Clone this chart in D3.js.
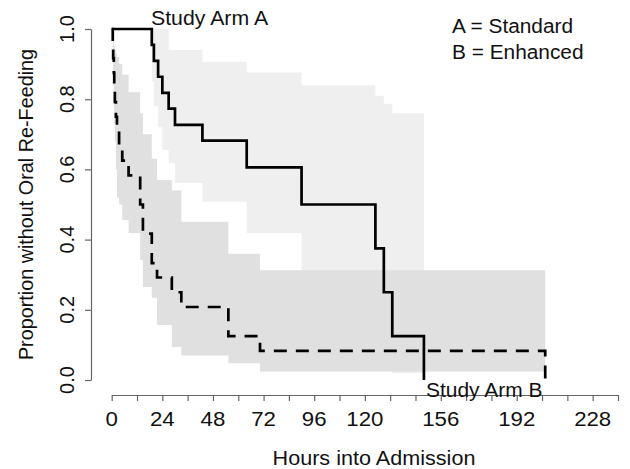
<!DOCTYPE html>
<html><head><meta charset="utf-8">
<script src="https://cdn.jsdelivr.net/npm/d3@7"></script>
<style>
body{margin:0;background:#fff;}
svg{display:block;}
text{font-family:"Liberation Sans",Arial,Helvetica,sans-serif;fill:#111;}
</style>
</head><body>
<svg id="c" width="630" height="469"></svg>
<script>
// ---- data ----
const armATime  = [0, 19, 20, 22, 24, 27, 30, 43, 64, 90, 125, 129, 133, 148];
const armASurv  = [1, .955, .909, .864, .818, .773, .727, .682, .606, .5, .375, .25, .125, 0];
const armAUpper = [1, 1, 1, 1, 1, .94, .94, .907, .876, .84, .81, .787, .76, .76];
const armALower = [1, .85, .78, .72, .655, .618, .561, .508, .419, .28, .17, .08, .02, .02];

const armBTime  = [0, .5, .7, 1, 1.2, 1.5, 2, 2.5, 3.5, 5, 8, 13.5, 14.8, 19, 21.5, 28.5, 33, 55.3, 70.3, 205.5];
const armBSurv  = [1, .958, .917, .875, .833, .792, .75, .708, .667, .625, .583, .5, .417, .333, .292, .25, .208, .125, .083, 0];
const armBUpper = [1, .975, .965, .955, .95, .94, .93, .92, .9, .87, .82, .76, .70, .63, .57, .54, .451, .36, .313, .313];
const armBLower = [1, .9, .84, .78, .73, .68, .6, .52, .5, .456, .419, .342, .265, .234, .157, .094, .07, .048, .024, .024];

const xTicks = d3.range(0, 241, 12);
const xTickLabels = [0, 24, 48, 72, 96, 120, 156, 192, 228];
const yTicks = [0, 0.2, 0.4, 0.6, 0.8, 1.0];
const legendLines = ["A = Standard", "B = Enhanced"];

// ---- scales ----
const x = d3.scaleLinear().domain([0, 240]).range([111.7, 618]);
const y = d3.scaleLinear().domain([0, 1]).range([380, 29]);

const svg = d3.select("#c");
const SX = 1.075; // horizontal stretch of the reference's horizontal text

function rows(t, s, u, l) { return t.map((d, i) => ({t: d, s: s[i], u: u[i], l: l[i]})); }
const A = rows(armATime, armASurv, armAUpper, armALower);
const B = rows(armBTime, armBSurv, armBUpper, armBLower);

const band = d3.area().curve(d3.curveStepAfter)
  .x(d => x(d.t)).y0(d => y(d.l)).y1(d => y(d.u));
const line = d3.line().curve(d3.curveStepAfter)
  .x(d => x(d.t)).y(d => y(d.s));

svg.append("path").attr("d", band(A)).attr("fill", "#efefef");
svg.append("path").attr("d", band(B)).attr("fill", "#e0e0e0");

svg.append("path").attr("d", line(A)).attr("fill", "none")
  .attr("stroke", "#000").attr("stroke-width", 2.7);
svg.append("path").attr("d", line(B)).attr("fill", "none")
  .attr("stroke", "#000").attr("stroke-width", 2.7).attr("stroke-dasharray", "13,9");

// ---- axes ----
const yAxis = svg.append("g").attr("transform", "translate(91,0)")
  .call(d3.axisLeft(y).tickValues(yTicks).tickSize(6).tickSizeOuter(0).tickFormat(""));
const xAxis = svg.append("g").attr("transform", "translate(0,395)")
  .call(d3.axisBottom(x).tickValues(xTicks).tickSize(6).tickSizeOuter(0).tickFormat(""));
[yAxis, xAxis].forEach(g => {
  g.selectAll("path,line").attr("stroke", "#666").attr("stroke-width", 1.2);
});

function htext(px, py, size, str, anchor) {
  return svg.append("text")
    .attr("transform", `translate(${px},${py}) scale(${SX},1)`)
    .attr("text-anchor", anchor || "start")
    .style("font-size", size + "px").text(str);
}

svg.selectAll(".ylab").data(yTicks).enter().append("text")
  .attr("transform", d => `translate(74,${y(d)}) rotate(-90)`)
  .attr("text-anchor", "middle").style("font-size", "20px")
  .text(d => d3.format(".1f")(d));

xTickLabels.forEach(d => htext(x(d), 426, 20.7, d, "middle"));

htext(374, 465, 20.1, "Hours into Admission", "middle");
svg.append("text").attr("transform", "translate(33,204.5) rotate(-90)")
  .attr("text-anchor", "middle").style("font-size", "19.8px")
  .text("Proportion without Oral Re-Feeding");

htext(151, 25, 19.8, "Study Arm A");
htext(426, 397, 19.5, "Study Arm B");

legendLines.forEach((d, i) => htext(452, 33 + i * 26, 19.4, d));
</script>
</body></html>
